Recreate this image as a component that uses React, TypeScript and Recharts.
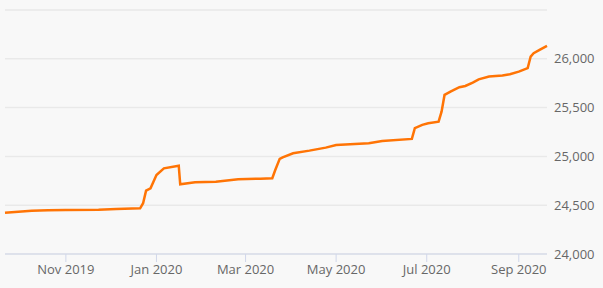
import React from "react";
import { LineChart, Line, XAxis, YAxis, CartesianGrid } from "recharts";

// readings
const dates = [
  "2019-09-21", "2019-09-30", "2019-10-09", "2019-10-20", "2019-11-01", "2019-11-23",
  "2019-12-05", "2019-12-21", "2019-12-23", "2019-12-25", "2019-12-28", "2020-01-01",
  "2020-01-06", "2020-01-16", "2020-01-17", "2020-01-27", "2020-02-10", "2020-02-25",
  "2020-03-11", "2020-03-19", "2020-03-21", "2020-03-24", "2020-03-26", "2020-04-02",
  "2020-04-13", "2020-04-24", "2020-05-01", "2020-05-23", "2020-06-01", "2020-06-21",
  "2020-06-23", "2020-06-28", "2020-07-02", "2020-07-09", "2020-07-11", "2020-07-13",
  "2020-07-17", "2020-07-23", "2020-07-27", "2020-08-01", "2020-08-05", "2020-08-12",
  "2020-08-21", "2020-08-26", "2020-09-01", "2020-09-07", "2020-09-09", "2020-09-11",
  "2020-09-15", "2020-09-20",
];
const values = [
  24423, 24434, 24444, 24448, 24451, 24454,
  24461, 24468, 24520, 24649, 24673, 24810,
  24878, 24905, 24714, 24735, 24741, 24765,
  24772, 24776, 24860, 24975, 24991, 25032,
  25059, 25090, 25117, 25134, 25158, 25179,
  25289, 25323, 25340, 25356, 25459, 25630,
  25664, 25709, 25722, 25756, 25790, 25818,
  25828, 25842, 25869, 25904, 26023, 26057,
  26091, 26132,
];
const tickDates = ["2019-11-01", "2020-01-01", "2020-03-01", "2020-05-01", "2020-07-01", "2020-09-01"];
const tickLabels = ["Nov 2019", "Jan 2020", "Mar 2020", "May 2020", "Jul 2020", "Sep 2020"];
const yTicks = [24000, 24500, 25000, 25500, 26000, 26500];

const toTime = (d: string) => Date.parse(d + "T00:00:00Z");
const data = dates.map((d, i) => ({ t: toTime(d), value: values[i] }));
const xTicks = tickDates.map(toTime);

const fmtX = (v: number) => {
  const i = xTicks.indexOf(v);
  return i >= 0 ? tickLabels[i] : "";
};
const fmtY = (v: number) => (v === 26500 ? "" : v.toLocaleString("en-US"));

export default function App() {
  return (
    <div style={{ width: 603, height: 288, background: "#f8f8f8" }}>
      <style>{"body{margin:0}"}</style>
      <LineChart
        width={603}
        height={288}
        data={data}
        margin={{ top: 10, right: 0, left: 5, bottom: 0 }}
        style={{ fontFamily: "'Open Sans', sans-serif" }}
      >
        <CartesianGrid vertical={false} stroke="#e9e9e9" strokeWidth={1.5} />
        <XAxis
          dataKey="t"
          type="number"
          scale="time"
          domain={[toTime("2019-09-21"), toTime("2020-09-20")]}
          ticks={xTicks}
          tickFormatter={fmtX}
          height={34}
          tickSize={8}
          tickMargin={3}
          stroke="#d0d7ea"
          tick={{ fill: "#676767", fontSize: 13 }}
        />
        <YAxis
          orientation="right"
          domain={[24000, 26500]}
          ticks={yTicks}
          tickFormatter={fmtY}
          width={56}
          axisLine={false}
          tickLine={false}
          tickSize={6}
          tickMargin={1}
          tick={{ fill: "#676767", fontSize: 13, textAnchor: "start" }}
        />
        <Line
          type="linear"
          dataKey="value"
          stroke="#ff7405"
          strokeWidth={2.5}
          dot={false}
          isAnimationActive={false}
        />
      </LineChart>
    </div>
  );
}
